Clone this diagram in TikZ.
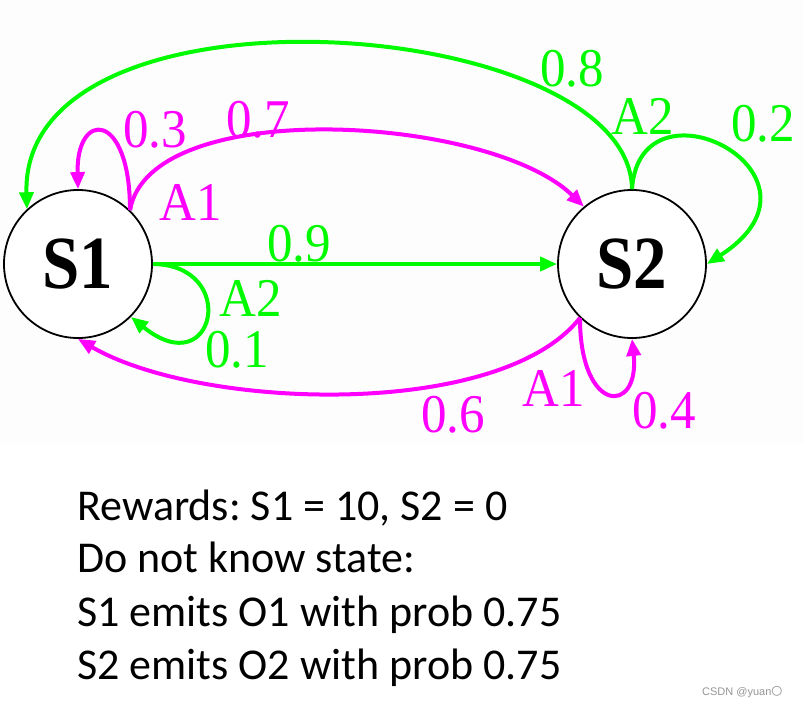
\documentclass[tikz,border=0pt]{standalone}
\usepackage{fontspec}
\setmainfont{Liberation Serif}
\newfontfamily\calibfont{Carlito}
\newfontfamily\wmfont{Liberation Sans}
\newfontfamily\cjkfont{Noto Sans CJK SC}
\usetikzlibrary{arrows.meta}
\definecolor{lgreen}{RGB}{0,250,0}
\definecolor{lmag}{RGB}{255,0,255}
\definecolor{bgtop}{RGB}{253,253,253}
\definecolor{wmgray}{RGB}{150,150,150}
\frenchspacing
\newcommand{\tallab}[1]{\scalebox{1}[1.07]{#1}}
\begin{document}
\begin{tikzpicture}[x=1pt,y=-1pt,
  state/.style={circle,draw=black,line width=1.8pt,fill=white,minimum size=148pt,inner sep=0pt,
    font=\fontsize{67}{67}\selectfont\bfseries},
  gedge/.style={draw=lgreen,line width=4pt,-{Triangle[length=17pt,width=14pt]}},
  medge/.style={draw=lmag,line width=4pt,-{Triangle[length=17pt,width=14pt]}},
  glab/.style={text=lgreen,inner sep=0pt,font=\fontsize{51}{51}\selectfont},
  mlab/.style={text=lmag,inner sep=0pt,font=\fontsize{51}{51}\selectfont},
  txt/.style={anchor=base west,inner sep=0pt,font=\calibfont\fontsize{44}{44}\selectfont}]
\useasboundingbox (0,0) rectangle (803,707);
\fill[white] (0,0) rectangle (803,707);
\fill[bgtop] (0,0) rectangle (803,445);
% states
\node[state] (s1) at (78,264) {\raisebox{-2pt}{\scalebox{1}[1.12]{S1}}};
\node[state] (s2) at (632,264) {\raisebox{-2pt}{\scalebox{1}[1.12]{S2}}};
% green edges
\draw[gedge] (s2.90) .. controls (630,15) and (20,-30) .. (s1.133);
\draw[gedge] (s2.90) .. controls (640,70) and (845,175) .. (s2.0);
\draw[gedge] (s1.0) -- (s2.180);
\draw[gedge] (s1.0) .. controls (240,265) and (215,385) .. (s1.-45);
% magenta edges
\draw[medge] (s1.46) .. controls (150,95) and (490,115) .. (s2.130);
\draw[medge] (s1.46) .. controls (130,110) and (76,110) .. (s1.90);
\draw[medge] (s2.-134) .. controls (500,420) and (200,410) .. (s1.-90);
\draw[medge] (s2.-134) .. controls (580,415) and (640,415) .. (s2.-90);
% labels
\node[glab] (l08) at (572,69) {\tallab{0.8}};
\node[glab] (la2b) at (643,116) {\tallab{A2}};
\node[glab] (l02) at (763,124) {\tallab{0.2}};
\node[mlab] (l03) at (155,130) {\tallab{0.3}};
\node[mlab] (l07) at (258,120) {\tallab{0.7}};
\node[mlab] (la1a) at (191,202) {\tallab{A1}};
\node[glab] (l09) at (299,244) {\tallab{0.9}};
\node[glab] (la2a) at (251,298) {\tallab{A2}};
\node[glab] (l01) at (237,350) {\tallab{0.1}};
\node[mlab] (l06) at (453,415) {\tallab{0.6}};
\node[mlab] (la1b) at (554,388) {\tallab{A1}};
\node[mlab] (l04) at (664,411) {\tallab{0.4}};
% text
\node[txt] (t1) at (77,520) {Rewards: S1 = 10, S2 = 0};
\node[txt] (t2) at (77,572) {Do not know state:};
\node[txt] (t3) at (77,626) {S1 emits O1 with prob 0.75};
\node[txt] (t4) at (77,679) {S2 emits O2 with prob 0.75};
% watermark
\node[anchor=base west,inner sep=0pt,text=wmgray,font=\wmfont\fontsize{11}{11}\selectfont] (wm) at (702,695) {CSDN @yuan{\cjkfont 〇}};
\end{tikzpicture}
\end{document}
